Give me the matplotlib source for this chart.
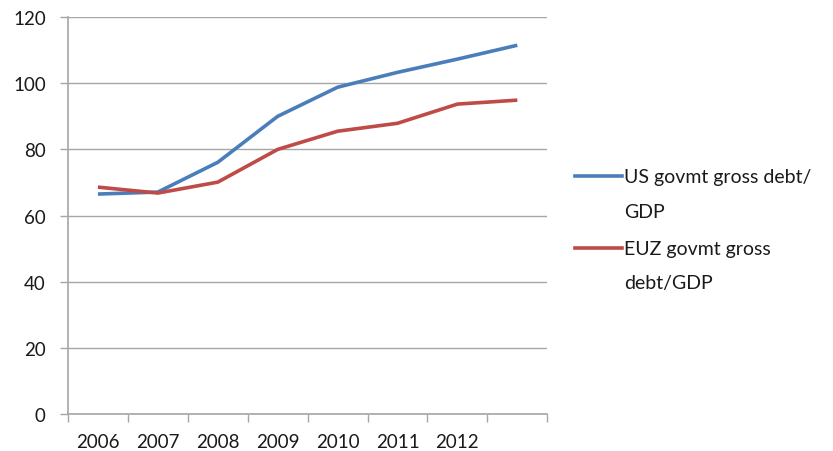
import matplotlib
matplotlib.use("Agg")
import matplotlib.pyplot as plt
from matplotlib.lines import Line2D
import numpy as np

# Government gross debt as % of GDP
years = ["2006", "2007", "2008", "2009", "2010", "2011", "2012", ""]
us_debt = [66.5, 67.1, 76.1, 90.0, 98.8, 103.3, 107.3, 111.5]
euz_debt = [68.6, 66.8, 70.1, 80.0, 85.5, 87.9, 93.7, 94.9]
series_labels = ["US govmt gross debt/\nGDP", "EUZ govmt gross\ndebt/GDP"]
series_colors = ["#4a7ebb", "#be4b48"]

plt.rcParams["font.family"] = ["Lato", "DejaVu Sans"]

W, H = 833, 452
fig = plt.figure(figsize=(W / 100, H / 100), dpi=100)
ax = fig.add_axes([0.0816, 0.0819, 0.5754, 0.878])

grid_c = "#a6a6a6"
text_c = "#1a1a1a"
x = np.arange(len(years))

for vals, col in zip([us_debt, euz_debt], series_colors):
    ax.plot(x, vals, color=col, lw=2.6, solid_capstyle="butt")

ax.set_xlim(-0.5, len(years) - 0.5)
ax.set_ylim(0, 120)
ax.set_yticks(np.arange(0, 121, 20))
ax.yaxis.grid(True, color=grid_c, lw=1.0)
ax.set_axisbelow(True)

# category boundaries carry the tick marks, centres carry the labels
ax.set_xticks(np.arange(-0.5, len(years), 1.0))
ax.set_xticklabels([])
ax.set_xticks(x, minor=True)
ax.set_xticklabels(years, minor=True)
ax.tick_params(axis="x", which="major", length=6, color=grid_c, width=1)
ax.tick_params(axis="x", which="minor", length=0, pad=14,
               labelsize=13.5, labelcolor=text_c)
ax.tick_params(axis="y", length=6, color=grid_c, width=1, pad=10,
               labelsize=13.5, labelcolor=text_c)

for side in ("top", "right"):
    ax.spines[side].set_visible(False)
for side in ("left", "bottom"):
    ax.spines[side].set_color(grid_c)
    ax.spines[side].set_linewidth(1.2)

# legend: swatch level with the first line of each wrapped label
entry_tops = [177, 249]
line_step = 35
for label, col, y0 in zip(series_labels, series_colors, entry_tops):
    fy = 1 - y0 / H
    fig.add_artist(Line2D([575 / W, 622 / W], [fy, fy], color=col, lw=2.6,
                          transform=fig.transFigure))
    for i, part in enumerate(label.split("\n")):
        fig.text(624 / W, 1 - (y0 + i * line_step) / H, part, fontsize=14,
                 color=text_c, ha="left", va="center")

fig.savefig("out.png", dpi=100)
